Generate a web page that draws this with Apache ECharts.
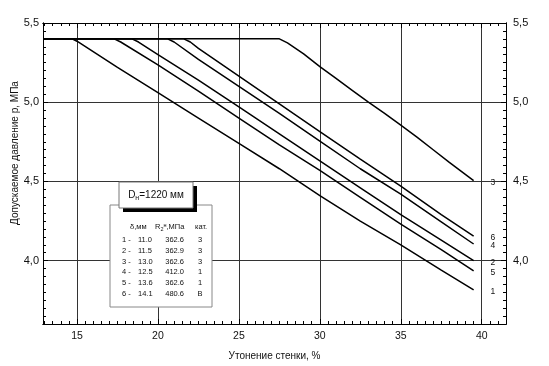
<!DOCTYPE html>
<html>
<head>
<meta charset="utf-8">
<script src="https://cdn.jsdelivr.net/npm/echarts@6/dist/echarts.min.js"></script>
<style>html,body{margin:0;padding:0;background:#fff}#c{width:549px;height:366px}</style>
</head>
<body>
<div id="c"></div>
<script>
// ---- data ----
const X_MIN = 12.9, X_MAX = 41.5, Y_MIN = 3.6, Y_MAX = 5.5;
const xTickValues = [15, 20, 25, 30, 35, 40];
const yTickValues = [4.0, 4.5, 5.0, 5.5];
const yTickLabels = ['4,0', '4,5', '5,0', '5,5'];
const xTitle = 'Утонение стенки, %';
const yTitle = 'Допускаемое давление р, МПа';

const curveNames = ['1', '2', '3', '4', '5', '6'];
const curve1 = [[12.9,5.4],[14.7,5.4],[15,5.385],[16,5.32],[17.5,5.22],[20,5.06],[22.5,4.9],[25,4.74],[27.5,4.58],[30,4.41],[32.5,4.25],[35,4.1],[37.5,3.94],[39.5,3.815]];
const curve2 = [[12.9,5.4],[18.4,5.4],[18.8,5.38],[20,5.3],[22.5,5.14],[25,4.97],[27.5,4.8],[30,4.63],[32.5,4.46],[35,4.29],[37.5,4.13],[39.5,4.0]];
const curve3 = [[12.9,5.4],[27.5,5.4],[28.0,5.375],[29,5.305],[30,5.225],[31,5.15],[32,5.075],[33,5.0],[34,4.93],[35,4.855],[36,4.78],[37,4.70],[38,4.62],[39.5,4.505]];
const curve4 = [[12.9,5.4],[20.6,5.4],[21.0,5.38],[22.5,5.27],[25,5.1],[27.5,4.93],[30,4.755],[32.5,4.58],[35,4.42],[37.5,4.245],[39.5,4.105]];
const curve5 = [[12.9,5.4],[17.3,5.4],[17.7,5.38],[20,5.235],[22.5,5.07],[25,4.9],[27.5,4.73],[30,4.57],[32.5,4.4],[35,4.23],[37.5,4.07],[39.5,3.935]];
const curve6 = [[12.9,5.4],[21.6,5.4],[22.0,5.38],[22.5,5.34],[25,5.165],[27.5,4.99],[30,4.815],[32.5,4.64],[35,4.47],[37.5,4.29],[39.5,4.155]];
const curves = [curve1, curve2, curve3, curve4, curve5, curve6];

const diameterLabel = '1220 мм';
const rowNumbers = ['1 -', '2 -', '3 -', '4 -', '5 -', '6 -'];
const thickness = ['11.0', '11.5', '13.0', '12.5', '13.6', '14.1'];
const strength = ['362.6', '362.9', '362.6', '412.0', '362.6', '480.6'];
const category = ['3', '3', '3', '1', '1', 'В'];

// ---- chart ----
const FONT = 'Liberation Sans, Arial, sans-serif';
const minorX = [];
for (let v = 13; v <= X_MAX + 1e-9; v += 0.5) minorX.push(Math.round(v * 10) / 10);

const GRID_COLOR = '#333';
function majorX(pos) {
  return {
    type: 'value', position: pos, min: X_MIN, max: X_MAX, gridIndex: 0,
    axisLine: { show: true, onZero: false, lineStyle: { color: '#000', width: 1 } },
    axisTick: { show: true, inside: true, length: 5, customValues: xTickValues, lineStyle: { color: '#000' } },
    axisLabel: { show: pos === 'bottom', customValues: xTickValues, color: '#111', fontSize: 10.5, fontFamily: FONT, margin: 7 },
    splitLine: { show: pos === 'bottom', lineStyle: { color: GRID_COLOR, width: 1 } },
    name: pos === 'bottom' ? xTitle : '', nameLocation: 'middle', nameGap: 27,
    nameTextStyle: { fontSize: 10, fontFamily: FONT, color: '#111' }
  };
}
function minorXAxis(pos) {
  return {
    type: 'value', position: pos, min: X_MIN, max: X_MAX, gridIndex: 0,
    axisLine: { show: true, onZero: false, lineStyle: { color: '#000', width: 1 } },
    axisTick: { show: true, inside: true, length: 3, customValues: minorX, lineStyle: { color: '#000', width: 1 } },
    axisLabel: { show: true, customValues: minorX, formatter: () => '' }, splitLine: { show: false }
  };
}
function majorY(pos) {
  return {
    type: 'value', position: pos, min: Y_MIN, max: Y_MAX, gridIndex: 0,
    axisLine: { show: true, onZero: false, lineStyle: { color: '#000', width: 1 } },
    axisTick: { show: true, inside: true, length: 5, customValues: yTickValues, lineStyle: { color: '#000' } },
    axisLabel: {
      show: true, customValues: yTickValues, color: '#111', fontSize: 11, fontFamily: FONT,
      margin: pos === 'left' ? 4 : 7,
      formatter: v => { const i = yTickValues.findIndex(t => Math.abs(t - v) < 1e-6); return i >= 0 ? yTickLabels[i] : ''; }
    },
    splitLine: { show: pos === 'left', lineStyle: { color: GRID_COLOR, width: 1 } }
  };
}
function minorYAxis(pos) {
  return {
    type: 'value', position: pos, min: Y_MIN, max: Y_MAX, interval: 0.05, gridIndex: 0,
    axisLine: { show: true, onZero: false, lineStyle: { color: '#000', width: 1 } },
    axisTick: { show: true, inside: true, length: 3, lineStyle: { color: '#000', width: 1 } },
    axisLabel: { show: false }, splitLine: { show: false }
  };
}

const series = curves.map((c, i) => ({
  type: 'line', name: curveNames[i], data: c, xAxisIndex: 0, yAxisIndex: 0,
  showSymbol: false, symbol: 'none', smooth: false, silent: true,
  lineStyle: { color: '#000', width: 1.5 },
  endLabel: { show: true, formatter: curveNames[i], color: '#111', fontSize: 8.5, fontFamily: FONT, offset: [9, 2] }
}));

const rowY0 = 240, rowStep = 10.8;
const tableTexts = [];
rowNumbers.forEach((r, i) => {
  const y = rowY0 + i * rowStep;
  tableTexts.push({ type: 'text', x: 122, y, style: { text: r, fontSize: 7.5, fontFamily: FONT, fill: '#111', textVerticalAlign: 'middle' } });
  tableTexts.push({ type: 'text', x: 138, y, style: { text: thickness[i], fontSize: 7.5, fontFamily: FONT, fill: '#111', textVerticalAlign: 'middle' } });
  tableTexts.push({ type: 'text', x: 184, y, style: { text: strength[i], fontSize: 7.5, fontFamily: FONT, fill: '#111', textAlign: 'right', textVerticalAlign: 'middle' } });
  tableTexts.push({ type: 'text', x: 200, y, style: { text: category[i], fontSize: 7.5, fontFamily: FONT, fill: '#111', textAlign: 'center', textVerticalAlign: 'middle' } });
});

const option = {
  backgroundColor: '#fff',
  animation: false,
  grid: { left: 43, right: 43, top: 23, bottom: 42, containLabel: false },
  xAxis: [majorX('bottom'), minorXAxis('bottom'), majorX('top'), minorXAxis('top')],
  yAxis: [majorY('left'), minorYAxis('left'), majorY('right'), minorYAxis('right')],
  series,
  graphic: [
    { type: 'text', rotation: Math.PI / 2, x: 15, y: 153,
      style: { text: yTitle, fontSize: 10, fontFamily: FONT, fill: '#111', textAlign: 'center', textVerticalAlign: 'middle' }, z: 100 },
    { type: 'rect', shape: { x: 110, y: 205, width: 102, height: 102 }, style: { fill: '#fff', stroke: '#888', lineWidth: 1 }, z: 100 },
    { type: 'rect', shape: { x: 123, y: 186, width: 74, height: 26 }, style: { fill: '#000' }, z: 101 },
    { type: 'rect', shape: { x: 119, y: 182, width: 74, height: 26 }, style: { fill: '#fff', stroke: '#777', lineWidth: 1 }, z: 102 },
    { type: 'text', x: 156, y: 195, z: 103,
      style: { text: 'D{s|н}=' + diameterLabel, fontSize: 10, fontFamily: FONT, fill: '#111', textAlign: 'center', textVerticalAlign: 'middle',
        rich: { s: { fontSize: 7, fontFamily: FONT, padding: [6, 0, 0, 0], fill: '#111' } } } },
    { type: 'text', x: 130, y: 227, z: 103, style: { text: 'δ,мм', fontSize: 7.5, fontFamily: FONT, fill: '#111', textVerticalAlign: 'middle' } },
    { type: 'text', x: 155, y: 227, z: 103,
      style: { text: 'R{sub|2}{sup|н},МПа', fontSize: 7.5, fontFamily: FONT, fill: '#111', textVerticalAlign: 'middle',
        rich: { sub: { fontSize: 5.5, fontFamily: FONT, padding: [4, 0, 0, 0] }, sup: { fontSize: 5.5, fontFamily: FONT, padding: [0, 0, 4, 0] } } } },
    { type: 'text', x: 195, y: 227, z: 103, style: { text: 'кат.', fontSize: 7.5, fontFamily: FONT, fill: '#111', textVerticalAlign: 'middle' } },
    ...tableTexts.map(t => Object.assign(t, { z: 103 }))
  ]
};

const chart = echarts.init(document.getElementById('c'), null, { renderer: 'canvas' });
chart.setOption(option);
</script>
</body>
</html>
